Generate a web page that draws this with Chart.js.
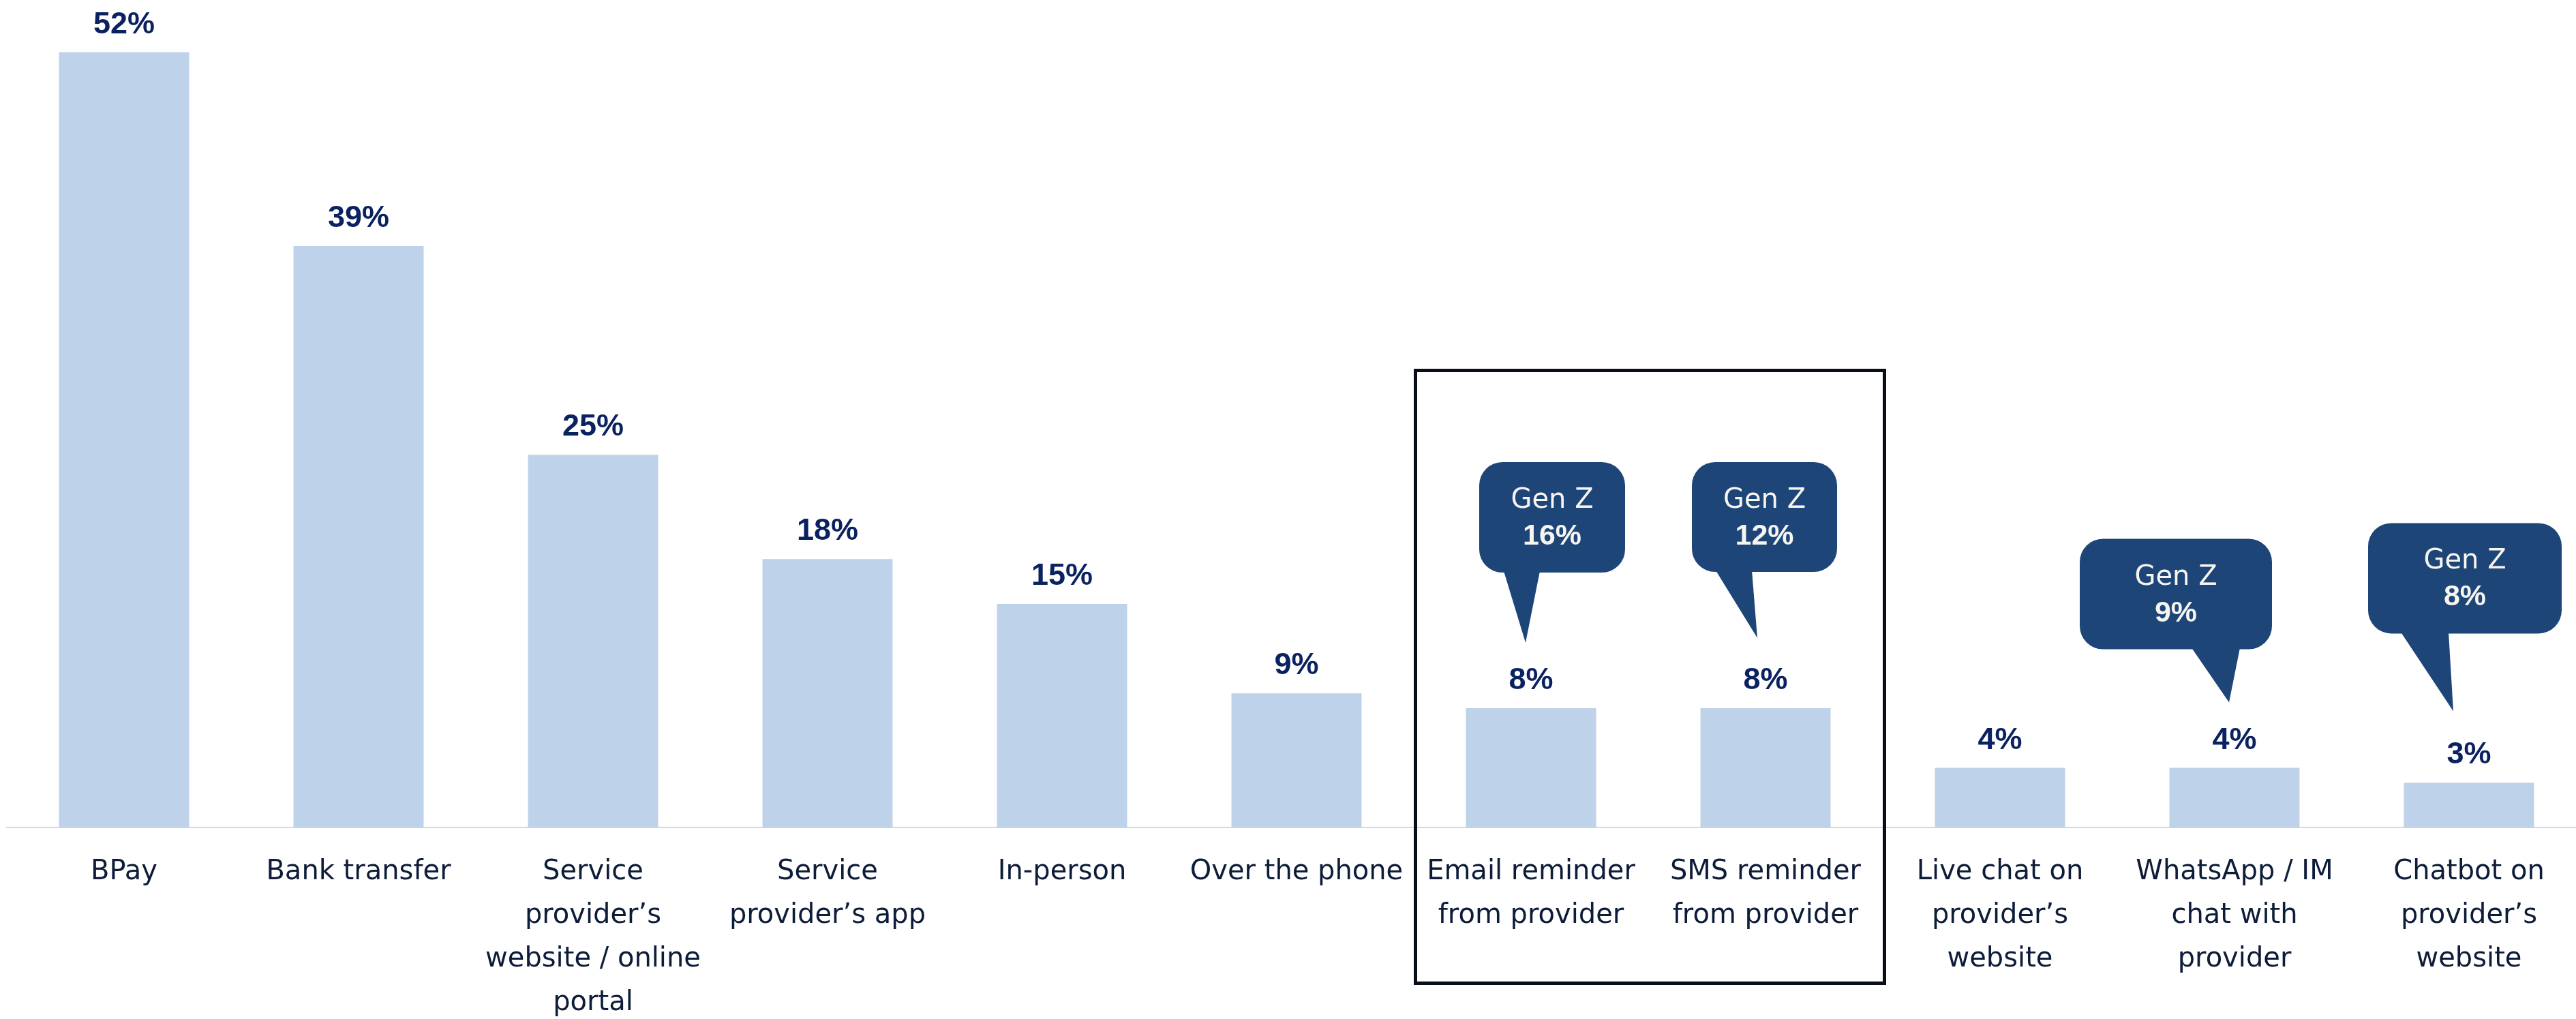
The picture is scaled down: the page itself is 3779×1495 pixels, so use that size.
<!DOCTYPE html>
<html>
<head>
<meta charset="utf-8">
<title>Bill payment methods</title>
<script src="https://cdn.jsdelivr.net/npm/chart.js@4.4.1/dist/chart.umd.min.js"></script>
<style>
    html, body { margin: 0; padding: 0; background: #ffffff; overflow: hidden; }
    #wrap { position: relative; width: 3794px; height: 1495px; }
</style>
</head>
<body>
<div id="wrap"><canvas id="paymentChart"></canvas></div>
<script>
// ============================================
// DATA
// ============================================

const categories = [
    ['BPay'],
    ['Bank transfer'],
    ['Service', 'provider’s', 'website / online', 'portal'],
    ['Service', 'provider’s app'],
    ['In-person'],
    ['Over the phone'],
    ['Email reminder', 'from provider'],
    ['SMS reminder', 'from provider'],
    ['Live chat on', 'provider’s', 'website'],
    ['WhatsApp / IM', 'chat with', 'provider'],
    ['Chatbot on', 'provider’s', 'website']
];
const allShares = [52, 39, 25, 18, 15, 9, 8, 8, 4, 4, 3];
const genZShares = [null, null, null, null, null, null, 16, 12, null, 9, 8];
const genZLabel = 'Gen Z';
const boxedCategories = [6, 7];

// ============================================
// STYLE
// ============================================

const BAR_COLOR = '#bed2ea';
const AXIS_COLOR = '#c6daf6';
const VALUE_COLOR = '#0b2260';
const TICK_COLOR = '#0d1c38';
const BUBBLE_COLOR = '#1e4577';
const BUBBLE_TEXT = '#f7f5f0';
const FRAME_COLOR = '#0a0e18';

// bubble geometry, offsets from the bar's centre x and top y
const bubbleLayout = {
    6:  { left: -76,  right: 138, top: -361, bottom: -199, tail: [-40, 13],   tip: [-8, -96] },
    7:  { left: -108, right: 105, top: -361, bottom: -200, tail: [-73, -20],  tip: [-12, -103] },
    9:  { left: -227, right: 55,  top: -336, bottom: -174, tail: [-63, 8],    tip: [-8, -96] },
    10: { left: -148, right: 136, top: -381, bottom: -219, tail: [-100, -30], tip: [-23, -105] }
};
const frameTop = 543.5;
const frameBottom = 1442.5;

// value labels above each bar
const barLabels = {
    id: 'barLabels',
    afterDatasetsDraw(chart) {
        const ctx = chart.ctx;
        const meta = chart.getDatasetMeta(0);
        ctx.save();
        ctx.font = 'bold 45px "Liberation Sans", Arial, sans-serif';
        ctx.fillStyle = VALUE_COLOR;
        ctx.textAlign = 'center';
        ctx.textBaseline = 'alphabetic';
        meta.data.forEach((bar, i) => {
            ctx.fillText(allShares[i] + '%', bar.x, bar.y - 28);
        });
        ctx.restore();
    }
};

// Gen Z speech bubbles and the box round the reminder bars
const genZBubbles = {
    id: 'genZBubbles',
    afterDraw(chart) {
        const ctx = chart.ctx;
        const meta = chart.getDatasetMeta(0);
        const xScale = chart.scales.x;

        ctx.save();
        genZShares.forEach((value, i) => {
            if (value === null) return;
            const lay = bubbleLayout[i];
            const bar = meta.data[i];
            const cx = bar.x;
            const ty = bar.y;
            const left = cx + lay.left;
            const right = cx + lay.right;
            const top = ty + lay.top;
            const bottom = ty + lay.bottom;

            ctx.fillStyle = BUBBLE_COLOR;
            ctx.beginPath();
            ctx.roundRect(left, top, right - left, bottom - top, 34);
            ctx.fill();
            ctx.beginPath();
            ctx.moveTo(cx + lay.tail[0], bottom - 2);
            ctx.lineTo(cx + lay.tail[1], bottom - 2);
            ctx.lineTo(cx + lay.tip[0], ty + lay.tip[1]);
            ctx.closePath();
            ctx.fill();

            const mid = (left + right) / 2;
            ctx.fillStyle = BUBBLE_TEXT;
            ctx.textAlign = 'center';
            ctx.textBaseline = 'alphabetic';
            ctx.font = '40px "DejaVu Sans", sans-serif';
            ctx.fillText(genZLabel, mid, top + 67);
            ctx.font = 'bold 43px "Liberation Sans", Arial, sans-serif';
            ctx.fillText(value + '%', mid, top + 121);
        });

        const half = (xScale.getPixelForTick(1) - xScale.getPixelForTick(0)) / 2;
        const fLeft = xScale.getPixelForTick(boxedCategories[0]) - half + 2.5;
        const fRight = xScale.getPixelForTick(boxedCategories[boxedCategories.length - 1]) + half + 2.5;
        ctx.strokeStyle = FRAME_COLOR;
        ctx.lineWidth = 5;
        ctx.strokeRect(fLeft, frameTop, fRight - fLeft, frameBottom - frameTop);
        ctx.restore();
    }
};

document.addEventListener('DOMContentLoaded', function() {
    const ctx = document.getElementById('paymentChart').getContext('2d');
    window.paymentChart = new Chart(ctx, {
        type: 'bar',
        data: {
            labels: categories,
            datasets: [{
                label: 'All',
                data: allShares,
                backgroundColor: BAR_COLOR,
                borderWidth: 0,
                barPercentage: 0.555,
                categoryPercentage: 1
            }]
        },
        options: {
            responsive: true,
            maintainAspectRatio: false,
            devicePixelRatio: 1,
            animation: false,
            layout: {
                padding: { left: 10, right: 0, top: 0, bottom: 0 }
            },
            plugins: {
                legend: { display: false },
                tooltip: { enabled: false }
            },
            scales: {
                x: {
                    grid: { display: false, drawTicks: false },
                    border: { display: true, color: AXIS_COLOR, width: 2 },
                    ticks: {
                        color: TICK_COLOR,
                        font: { family: '"DejaVu Sans", sans-serif', size: 40, lineHeight: '64px' },
                        padding: 34,
                        maxRotation: 0,
                        autoSkip: false
                    },
                    afterFit(scale) {
                        scale.height = 281;
                    }
                },
                y: {
                    display: false,
                    min: 0,
                    max: 55.5
                }
            }
        },
        plugins: [barLabels, genZBubbles]
    });
});
</script>
</body>
</html>
